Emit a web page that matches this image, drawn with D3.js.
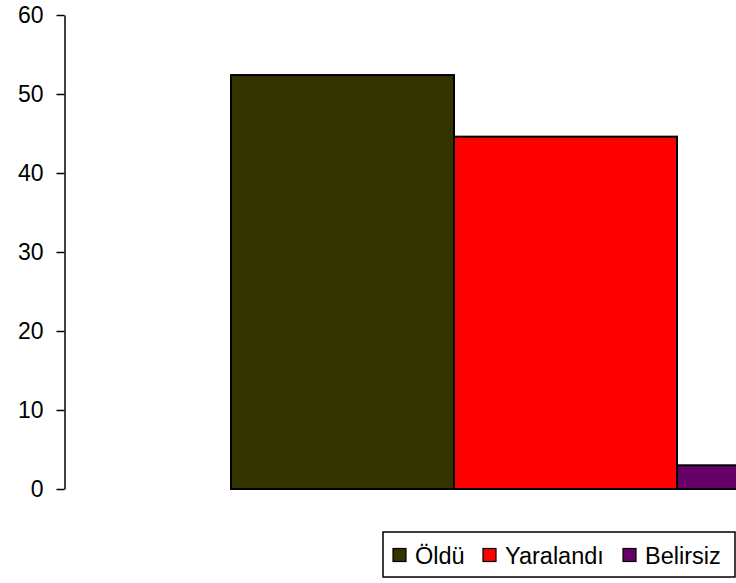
<!DOCTYPE html>
<html>
<head>
<meta charset="utf-8">
<script src="https://d3js.org/d3.v7.min.js"></script>
<style>
body { margin: 0; background: #fff; }
svg { display: block; font-family: 'Liberation Sans', Arial, sans-serif; }
</style>
</head>
<body>
<div id="chart"></div>
<script>

var width = 736;
var height = 583;

// data
var series = ["Öldü", "Yaralandı", "Belirsiz"];
var values = [52.4, 44.6, 3.0];
var colors = ["#333300", "#ff0000", "#660066"];
var yTicks = [0, 10, 20, 30, 40, 50, 60];

var svg = d3.select("#chart")
  .append("svg")
  .attr("width", width)
  .attr("height", height);

var y = d3.scaleLinear()
  .domain([0, 60])
  .range([489, 15]);

// bars run past the right edge, like the original
var x = d3.scaleBand()
  .domain(series)
  .range([231, 900])
  .paddingInner(0)
  .paddingOuter(0);

var axis = svg.append("g")
  .attr("transform", "translate(64.5,0)")
  .call(d3.axisLeft(y).tickValues(yTicks).tickSize(8).tickPadding(13).tickSizeOuter(0));

axis.select(".domain").attr("stroke", "#000").attr("stroke-width", 1.5);
axis.selectAll(".tick line").attr("stroke", "#000").attr("stroke-width", 1.5);
axis.selectAll(".tick text")
  .attr("font-size", 23)
  .attr("font-family", "'Liberation Sans', Arial, sans-serif")
  .attr("fill", "#000");

svg.selectAll("rect.bar")
  .data(series)
  .enter()
  .append("rect")
  .attr("class", "bar")
  .attr("x", d => x(d))
  .attr("width", x.bandwidth())
  .attr("y", (d, i) => y(values[i]))
  .attr("height", (d, i) => y(0) - y(values[i]))
  .attr("fill", (d, i) => colors[i])
  .attr("stroke", "#000")
  .attr("stroke-width", 2);

// legend
var legend = svg.append("g");
legend.append("rect")
  .attr("x", 383)
  .attr("y", 532)
  .attr("width", 352)
  .attr("height", 45)
  .attr("fill", "#fff")
  .attr("stroke", "#000")
  .attr("stroke-width", 1.5);

var legendX = [393, 483, 623];

var item = legend.selectAll("g.item")
  .data(series)
  .enter()
  .append("g")
  .attr("class", "item")
  .attr("transform", (d, i) => "translate(" + legendX[i] + ",0)");

item.append("rect")
  .attr("x", 0)
  .attr("y", 548.5)
  .attr("width", 13)
  .attr("height", 13)
  .attr("fill", (d, i) => colors[i])
  .attr("stroke", "#000")
  .attr("stroke-width", 1.2);

item.append("text")
  .attr("x", 22)
  .attr("y", 563.5)
  .attr("font-size", 23.5)
  .attr("fill", "#000")
  .text(d => d);

</script>
</body>
</html>
